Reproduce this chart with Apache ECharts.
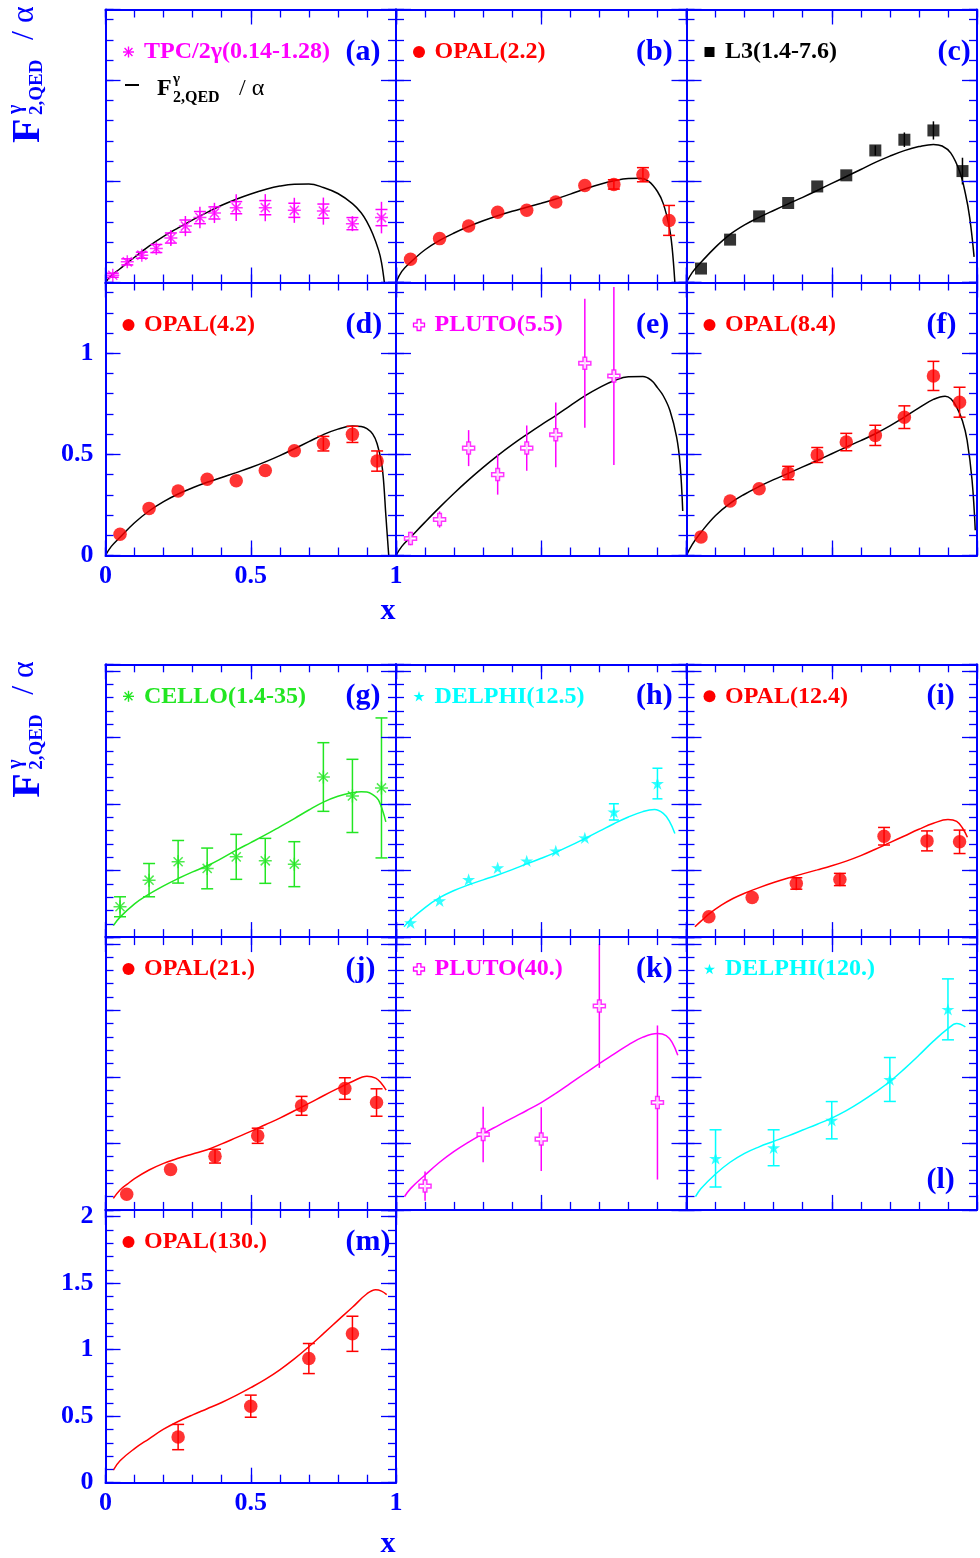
<!DOCTYPE html>
<html><head><meta charset="utf-8">
<script src="https://cdn.jsdelivr.net/npm/echarts@6/dist/echarts.min.js"></script>
<style>html,body{margin:0;padding:0;background:#fff}#c{width:980px;height:1558px}</style>
</head><body><div id="c"></div><script>
// ---------------- DATA ----------------
// (a) TPC/2gamma
const tpcX = [0.025, 0.075, 0.125, 0.175, 0.225, 0.275, 0.325, 0.375, 0.45, 0.55, 0.65, 0.75, 0.85, 0.95];
const tpcY = [0.036, 0.102, 0.135, 0.168, 0.22, 0.279, 0.321, 0.344, 0.37, 0.37, 0.357, 0.353, 0.291, 0.321];
const tpcErr = [0.01, 0.015, 0.015, 0.02, 0.04, 0.05, 0.053, 0.05, 0.066, 0.067, 0.062, 0.067, 0.037, 0.078];
const tpcStat = [0.01, 0.015, 0.015, 0.02, 0.025, 0.03, 0.03, 0.03, 0.03, 0.035, 0.035, 0.035, 0.03, 0.04];
const curveAX = [0, 0.02, 0.05, 0.075, 0.1, 0.15, 0.2, 0.25, 0.3, 0.35, 0.4, 0.45, 0.5, 0.55, 0.6, 0.65, 0.7, 0.75, 0.8, 0.85, 0.88, 0.9, 0.92, 0.94, 0.95, 0.96];
const curveAY = [0, 0.035, 0.068, 0.097, 0.125, 0.18, 0.228, 0.27, 0.31, 0.347, 0.382, 0.412, 0.438, 0.46, 0.477, 0.486, 0.487, 0.47, 0.44, 0.39, 0.345, 0.3, 0.24, 0.16, 0.1, 0];
// (b) OPAL 2.2
const opal22X = [0.05, 0.15, 0.25, 0.35, 0.45, 0.55, 0.65, 0.75, 0.85, 0.94];
const opal22Y = [0.115, 0.217, 0.279, 0.347, 0.357, 0.398, 0.48, 0.485, 0.533, 0.307];
const opal22Err = [0, 0, 0, 0, 0, 0, 0, 0.023, 0.035, 0.074];
const curveBX = [0, 0.02, 0.05, 0.1, 0.15, 0.2, 0.25, 0.3, 0.35, 0.4, 0.45, 0.5, 0.55, 0.6, 0.65, 0.7, 0.75, 0.8, 0.84, 0.87, 0.9, 0.92, 0.94, 0.95, 0.96];
const curveBY = [0, 0.055, 0.1, 0.162, 0.208, 0.245, 0.277, 0.305, 0.33, 0.352, 0.372, 0.392, 0.413, 0.437, 0.462, 0.485, 0.503, 0.514, 0.515, 0.5, 0.45, 0.39, 0.28, 0.18, 0];
// (c) L3
const l3X = [0.05, 0.15, 0.25, 0.35, 0.45, 0.55, 0.65, 0.75, 0.85, 0.95];
const l3Y = [0.069, 0.212, 0.327, 0.393, 0.475, 0.53, 0.653, 0.706, 0.752, 0.551];
const l3Err = [0, 0, 0, 0, 0, 0, 0.025, 0.036, 0.045, 0.066];
const curveCX = [0, 0.02, 0.05, 0.1, 0.15, 0.2, 0.25, 0.3, 0.35, 0.4, 0.45, 0.5, 0.55, 0.6, 0.65, 0.7, 0.75, 0.8, 0.85, 0.88, 0.91, 0.94, 0.96, 0.975, 0.99];
const curveCY = [0, 0.05, 0.1, 0.175, 0.238, 0.285, 0.322, 0.356, 0.389, 0.421, 0.455, 0.49, 0.524, 0.559, 0.594, 0.625, 0.652, 0.672, 0.683, 0.675, 0.64, 0.55, 0.44, 0.32, 0.127];
// (d) OPAL 4.2
const opal42X = [0.05, 0.15, 0.25, 0.35, 0.45, 0.55, 0.65, 0.75, 0.85, 0.935];
const opal42Y = [0.105, 0.233, 0.319, 0.377, 0.37, 0.42, 0.518, 0.553, 0.599, 0.467];
const opal42Err = [0, 0, 0, 0, 0, 0, 0, 0.036, 0.04, 0.05];
const curveDX = [0, 0.02, 0.05, 0.1, 0.15, 0.2, 0.25, 0.3, 0.35, 0.4, 0.45, 0.5, 0.55, 0.6, 0.65, 0.7, 0.75, 0.8, 0.85, 0.88, 0.9, 0.92, 0.935, 0.95, 0.957, 0.965, 0.975];
const curveDY = [0, 0.045, 0.09, 0.162, 0.22, 0.266, 0.304, 0.335, 0.362, 0.386, 0.41, 0.435, 0.463, 0.494, 0.528, 0.563, 0.598, 0.625, 0.64, 0.638, 0.627, 0.6, 0.553, 0.46, 0.372, 0.2, 0];
// (e) PLUTO 5.5
const pluto55X = [0.05, 0.15, 0.25, 0.35, 0.45, 0.55, 0.65, 0.75];
const pluto55Y = [0.084, 0.178, 0.531, 0.4, 0.531, 0.597, 0.951, 0.888];
const pluto55Err = [0.033, 0.04, 0.089, 0.099, 0.112, 0.16, 0.319, 0.44];
const curveEX = [0, 0.02, 0.05, 0.1, 0.15, 0.2, 0.25, 0.3, 0.35, 0.4, 0.45, 0.5, 0.55, 0.6, 0.65, 0.7, 0.75, 0.8, 0.85, 0.88, 0.9, 0.92, 0.943, 0.966, 0.978, 0.987];
const curveEY = [0, 0.045, 0.09, 0.165, 0.238, 0.308, 0.374, 0.436, 0.494, 0.548, 0.598, 0.646, 0.692, 0.741, 0.789, 0.83, 0.864, 0.884, 0.885, 0.865, 0.83, 0.79, 0.717, 0.585, 0.45, 0.22];
// (f) OPAL 8.4
const opal84X = [0.05, 0.15, 0.25, 0.35, 0.45, 0.55, 0.65, 0.75, 0.85, 0.94];
const opal84Y = [0.092, 0.27, 0.33, 0.408, 0.497, 0.561, 0.594, 0.684, 0.888, 0.758];
const opal84Err = [0, 0, 0, 0.033, 0.037, 0.043, 0.05, 0.056, 0.072, 0.074];
const curveFX = [0, 0.02, 0.05, 0.1, 0.15, 0.2, 0.25, 0.3, 0.35, 0.4, 0.45, 0.5, 0.55, 0.6, 0.65, 0.7, 0.75, 0.8, 0.85, 0.89, 0.91, 0.93, 0.95, 0.966, 0.983, 0.994];
const curveFY = [0, 0.055, 0.115, 0.198, 0.258, 0.303, 0.341, 0.375, 0.406, 0.438, 0.47, 0.503, 0.536, 0.568, 0.602, 0.641, 0.684, 0.73, 0.772, 0.788, 0.775, 0.734, 0.665, 0.569, 0.372, 0.125];
// (g) CELLO
const celloX = [0.05, 0.15, 0.25, 0.35, 0.45, 0.55, 0.65, 0.75, 0.85, 0.95];
const celloY = [0.228, 0.428, 0.566, 0.516, 0.603, 0.573, 0.548, 1.203, 1.061, 1.121];
const celloErr = [0.075, 0.125, 0.16, 0.153, 0.169, 0.169, 0.169, 0.258, 0.275, 0.526];
const curveGX = [0.027, 0.05, 0.1, 0.14, 0.2, 0.25, 0.3, 0.35, 0.4, 0.45, 0.5, 0.55, 0.6, 0.65, 0.7, 0.75, 0.8, 0.85, 0.88, 0.9, 0.92, 0.94, 0.965];
const curveGY = [0.086, 0.15, 0.25, 0.31, 0.385, 0.44, 0.49, 0.536, 0.592, 0.653, 0.71, 0.768, 0.829, 0.891, 0.955, 1.014, 1.058, 1.085, 1.093, 1.091, 1.07, 1.029, 0.866];
// (h) DELPHI 12.5
const delphi125X = [0.05, 0.15, 0.25, 0.35, 0.45, 0.55, 0.65, 0.75, 0.9];
const delphi125Y = [0.108, 0.273, 0.433, 0.521, 0.573, 0.648, 0.746, 0.941, 1.154];
const delphi125Err = [0, 0, 0, 0, 0, 0, 0, 0.061, 0.115];
const curveHX = [0.0275, 0.05, 0.1, 0.15, 0.2, 0.25, 0.3, 0.35, 0.4, 0.45, 0.5, 0.55, 0.6, 0.65, 0.7, 0.75, 0.8, 0.85, 0.89, 0.92, 0.94, 0.96];
const curveHY = [0.078, 0.13, 0.222, 0.296, 0.35, 0.393, 0.43, 0.467, 0.507, 0.55, 0.592, 0.637, 0.687, 0.741, 0.796, 0.852, 0.903, 0.943, 0.958, 0.93, 0.875, 0.778];
// (i) OPAL 12.4
const opal124X = [0.077, 0.226, 0.378, 0.528, 0.68, 0.828, 0.94];
const opal124Y = [0.153, 0.298, 0.403, 0.433, 0.758, 0.723, 0.716];
const opal124Err = [0, 0, 0.043, 0.046, 0.066, 0.075, 0.088];
const curveIX = [0.029, 0.05, 0.08, 0.12, 0.16, 0.2, 0.25, 0.3, 0.35, 0.4, 0.45, 0.5, 0.55, 0.6, 0.65, 0.7, 0.75, 0.8, 0.85, 0.9, 0.93, 0.95, 0.967];
const curveIY = [0.078, 0.12, 0.178, 0.24, 0.29, 0.33, 0.372, 0.41, 0.444, 0.475, 0.505, 0.536, 0.571, 0.612, 0.66, 0.71, 0.76, 0.81, 0.855, 0.884, 0.87, 0.82, 0.75];
// (j) OPAL 21.
const opal21X = [0.073, 0.224, 0.377, 0.524, 0.675, 0.824, 0.933];
const opal21Y = [0.117, 0.304, 0.404, 0.557, 0.782, 0.912, 0.807];
const opal21Err = [0, 0, 0.052, 0.057, 0.071, 0.081, 0.103];
const curveJX = [0.027, 0.05, 0.075, 0.1, 0.15, 0.2, 0.25, 0.3, 0.35, 0.4, 0.45, 0.5, 0.55, 0.6, 0.65, 0.7, 0.75, 0.8, 0.85, 0.9, 0.93, 0.95, 0.966];
const curveJY = [0.087, 0.15, 0.194, 0.235, 0.3, 0.35, 0.388, 0.42, 0.452, 0.496, 0.543, 0.59, 0.64, 0.69, 0.745, 0.8, 0.858, 0.913, 0.965, 1.005, 0.99, 0.95, 0.9];
// (k) PLUTO 40.
const pluto40X = [0.1, 0.3, 0.5, 0.7, 0.9];
const pluto40Y = [0.179, 0.567, 0.532, 1.532, 0.807];
const pluto40Err = [0.11, 0.208, 0.24, 0.465, 0.579];
const curveKX = [0.029, 0.05, 0.1, 0.15, 0.2, 0.25, 0.3, 0.35, 0.4, 0.45, 0.5, 0.55, 0.6, 0.65, 0.7, 0.75, 0.8, 0.85, 0.9, 0.93, 0.95, 0.97];
const curveKY = [0.099, 0.16, 0.262, 0.358, 0.44, 0.51, 0.573, 0.632, 0.69, 0.747, 0.806, 0.875, 0.95, 1.025, 1.1, 1.17, 1.24, 1.298, 1.325, 1.31, 1.26, 1.162];
// (l) DELPHI 120.
const delphi120X = [0.1, 0.3, 0.5, 0.7, 0.9];
const delphi120Y = [0.387, 0.467, 0.674, 0.98, 1.507];
const delphi120Err = [0.215, 0.135, 0.14, 0.165, 0.229];
const curveLX = [0.031, 0.05, 0.1, 0.15, 0.2, 0.25, 0.3, 0.35, 0.4, 0.45, 0.5, 0.55, 0.6, 0.65, 0.7, 0.75, 0.8, 0.85, 0.9, 0.93, 0.96];
const curveLY = [0.099, 0.16, 0.27, 0.358, 0.425, 0.474, 0.515, 0.556, 0.6, 0.644, 0.69, 0.746, 0.812, 0.885, 0.965, 1.06, 1.162, 1.268, 1.362, 1.4, 1.375];
// (m) OPAL 130.
const opal130X = [0.25, 0.5, 0.7, 0.85];
const opal130Y = [0.343, 0.575, 0.933, 1.119];
const opal130Err = [0.095, 0.083, 0.113, 0.132];
const curveMX = [0.027, 0.05, 0.1, 0.15, 0.2, 0.25, 0.3, 0.35, 0.4, 0.45, 0.5, 0.55, 0.6, 0.65, 0.7, 0.75, 0.8, 0.85, 0.9, 0.93, 0.95, 0.968];
const curveMY = [0.095, 0.165, 0.256, 0.33, 0.402, 0.46, 0.51, 0.556, 0.603, 0.656, 0.714, 0.776, 0.848, 0.93, 1.022, 1.12, 1.22, 1.318, 1.42, 1.45, 1.44, 1.413];

// ---------------- STYLE / LAYOUT ----------------
const BLUE = '#0000ff', RED = '#ff0000', MAG = '#ff00ff', GRN = '#22e622', CYN = '#00ffff', BLK = '#000000';
const FONT = '"Liberation Serif","Times New Roman",serif';
const COL_LEFT = [105.5, 396, 686.5], PW = 290.5;
const BLOCKS = [
  {top: 9.5, h: 273, ymax: 1.35, legDy: 42.5},
  {top: 664.3, h: 272.8, ymax: 2.05, legDy: 32}
];

const panels = [
  {id:'(a)', block:0, row:0, col:0, px:tpcX, py:tpcY, pe:tpcErr, ps:tpcStat, cx:curveAX, cy:curveAY, color:MAG, ccol:BLK, sym:'asterisk', cap:6, label:'TPC/2γ(0.14-1.28)'},
  {id:'(b)', block:0, row:0, col:1, px:opal22X, py:opal22Y, pe:opal22Err, cx:curveBX, cy:curveBY, color:RED, ccol:BLK, sym:'dot', cap:6, label:'OPAL(2.2)'},
  {id:'(c)', block:0, row:0, col:2, px:l3X, py:l3Y, pe:l3Err, cx:curveCX, cy:curveCY, color:BLK, ccol:BLK, sym:'square', cap:0, label:'L3(1.4-7.6)', idDx:251},
  {id:'(d)', block:0, row:1, col:0, px:opal42X, py:opal42Y, pe:opal42Err, cx:curveDX, cy:curveDY, color:RED, ccol:BLK, sym:'dot', cap:6, label:'OPAL(4.2)', xl:true, yl:true},
  {id:'(e)', block:0, row:1, col:1, px:pluto55X, py:pluto55Y, pe:pluto55Err, cx:curveEX, cy:curveEY, color:MAG, ccol:BLK, sym:'ocross', cap:0, label:'PLUTO(5.5)'},
  {id:'(f)', block:0, row:1, col:2, px:opal84X, py:opal84Y, pe:opal84Err, cx:curveFX, cy:curveFY, color:RED, ccol:BLK, sym:'dot', cap:6, label:'OPAL(8.4)'},
  {id:'(g)', block:1, row:0, col:0, px:celloX, py:celloY, pe:celloErr, cx:curveGX, cy:curveGY, color:GRN, ccol:GRN, sym:'asterisk', cap:6, label:'CELLO(1.4-35)'},
  {id:'(h)', block:1, row:0, col:1, px:delphi125X, py:delphi125Y, pe:delphi125Err, cx:curveHX, cy:curveHY, color:CYN, ccol:CYN, sym:'star', cap:5, label:'DELPHI(12.5)'},
  {id:'(i)', block:1, row:0, col:2, px:opal124X, py:opal124Y, pe:opal124Err, cx:curveIX, cy:curveIY, color:RED, ccol:RED, sym:'dot', cap:6, label:'OPAL(12.4)'},
  {id:'(j)', block:1, row:1, col:0, px:opal21X, py:opal21Y, pe:opal21Err, cx:curveJX, cy:curveJY, color:RED, ccol:RED, sym:'dot', cap:6, label:'OPAL(21.)'},
  {id:'(k)', block:1, row:1, col:1, px:pluto40X, py:pluto40Y, pe:pluto40Err, cx:curveKX, cy:curveKY, color:MAG, ccol:MAG, sym:'ocross', cap:0, label:'PLUTO(40.)'},
  {id:'(l)', block:1, row:1, col:2, px:delphi120X, py:delphi120Y, pe:delphi120Err, cx:curveLX, cy:curveLY, color:CYN, ccol:CYN, sym:'star', cap:6, label:'DELPHI(120.)', idDy:243},
  {id:'(m)', block:1, row:2, col:0, px:opal130X, py:opal130Y, pe:opal130Err, cx:curveMX, cy:curveMY, color:RED, ccol:RED, sym:'dot', cap:6, label:'OPAL(130.)', xl:true, yl:true}
];

function starPath() {
  let s = 'path://';
  for (let k = 0; k < 10; k++) {
    const a = -Math.PI / 2 + k * Math.PI / 5, r = k % 2 ? 19 : 50;
    s += (k ? 'L' : 'M') + (50 + r * Math.cos(a)).toFixed(2) + ',' + (50 + r * Math.sin(a)).toFixed(2);
  }
  return s + 'Z';
}
const SYM = {
  dot: {symbol: 'circle', size: 13.5, style: c => ({color: c})},
  square: {symbol: 'rect', size: 12, style: c => ({color: c})},
  star: {symbol: starPath(), size: 13, keep: true, style: c => ({color: c})},
  ocross: {symbol: 'path://M35,0H65V35H100V65H65V100H35V65H0V35H35Z', size: 12, style: c => ({color: '#ffffff', borderColor: c, borderWidth: 1.5})},
  asterisk: {symbol: 'path://M50,0L50,100M0,50L100,50M15,15L85,85M85,15L15,85', size: 13, style: c => ({color: 'rgba(0,0,0,0)', borderColor: c, borderWidth: 1.5})}
};

function ax(dim, gi, pos, max, interval, tickLen, line, labels) {
  return {
    type: 'value', gridIndex: gi, position: pos, min: 0, max: max, interval: interval,
    axisLine: {show: line, onZero: false, lineStyle: {color: BLUE, width: 2}},
    axisTick: {show: true, inside: true, length: tickLen, lineStyle: {color: BLUE, width: 1.3}},
    axisLabel: {show: labels, color: BLUE, fontFamily: FONT, fontWeight: 'bold', fontSize: 26,
      margin: dim === 'x' ? 8 : 12, showMaxLabel: dim === 'x', showMinLabel: true},
    splitLine: {show: false}, minorTick: {show: false}, silent: true, z: 5
  };
}

const grids = [], xAxes = [], yAxes = [], series = [], graphics = [];

function txt(text, x, y, size, color, opts) {
  opts = opts || {};
  const weight = opts.normal ? 'normal' : 'bold';
  return {type: 'text', x: x, y: y, rotation: opts.rot || 0, silent: true, z: 100,
    style: {text: text, fill: color, font: weight + ' ' + size + 'px ' + FONT,
      textAlign: opts.align || 'left', align: opts.align || 'left',
      textVerticalAlign: 'middle', verticalAlign: 'middle'}};
}

function legendMarker(kind, cx, cy, color) {
  if (kind === 'dot') return {type: 'circle', shape: {cx: cx, cy: cy, r: 6}, style: {fill: color}, silent: true, z: 100};
  if (kind === 'square') return {type: 'rect', shape: {x: cx - 5, y: cy - 5, width: 10, height: 10}, style: {fill: color}, silent: true, z: 100};
  if (kind === 'star') {
    const pts = [];
    for (let k = 0; k < 10; k++) { const a = -Math.PI / 2 + k * Math.PI / 5, r = k % 2 ? 2.2 : 5.8; pts.push([cx + r * Math.cos(a), cy + 0.5 + r * Math.sin(a)]); }
    return {type: 'polygon', shape: {points: pts}, style: {fill: color}, silent: true, z: 100};
  }
  if (kind === 'ocross') {
    const s = 5.5, w = 1.9;
    const p = [[-w,-s],[w,-s],[w,-w],[s,-w],[s,w],[w,w],[w,s],[-w,s],[-w,w],[-s,w],[-s,-w],[-w,-w]].map(q => [cx + q[0], cy + q[1]]);
    return {type: 'polygon', shape: {points: p}, style: {fill: '#fff', stroke: color, lineWidth: 1.3}, silent: true, z: 100};
  }
  const r = 5.5, d = r * 0.72;
  const st = {stroke: color, lineWidth: 1.4};
  return {type: 'group', silent: true, z: 100, children: [
    {type: 'line', shape: {x1: cx, y1: cy - r, x2: cx, y2: cy + r}, style: st},
    {type: 'line', shape: {x1: cx - r, y1: cy, x2: cx + r, y2: cy}, style: st},
    {type: 'line', shape: {x1: cx - d, y1: cy - d, x2: cx + d, y2: cy + d}, style: st},
    {type: 'line', shape: {x1: cx + d, y1: cy - d, x2: cx - d, y2: cy + d}, style: st}
  ]};
}

function errRender(color, capHalf) {
  return function (params, api) {
    const x = api.value(0), y = api.value(1), e = api.value(2), es = api.value(3);
    if (!(e > 0)) return null;
    const p1 = api.coord([x, y + e]), p2 = api.coord([x, y - e]);
    const st = {stroke: color, lineWidth: 1.5};
    const ch = [{type: 'line', shape: {x1: p1[0], y1: p1[1], x2: p2[0], y2: p2[1]}, style: st}];
    if (capHalf > 0) {
      const c1 = api.coord([x, y + es]), c2 = api.coord([x, y - es]);
      ch.push({type: 'line', shape: {x1: c1[0] - capHalf, y1: c1[1], x2: c1[0] + capHalf, y2: c1[1]}, style: st});
      ch.push({type: 'line', shape: {x1: c2[0] - capHalf, y1: c2[1], x2: c2[0] + capHalf, y2: c2[1]}, style: st});
    }
    return {type: 'group', children: ch};
  };
}

panels.forEach((p, gi) => {
  const B = BLOCKS[p.block];
  const left = COL_LEFT[p.col], top = B.top + p.row * B.h;
  grids.push({left: left, top: top, width: PW, height: B.h, containLabel: false, outerBoundsMode: 'none', show: false});
  const xi = xAxes.length, yi = yAxes.length;
  xAxes.push(ax('x', gi, 'bottom', 1, 0.1, 8, true, false));
  xAxes.push(ax('x', gi, 'bottom', 1, 0.5, 15, false, !!p.xl));
  xAxes.push(ax('x', gi, 'top', 1, 0.1, 8, true, false));
  xAxes.push(ax('x', gi, 'top', 1, 0.5, 15, false, false));
  yAxes.push(ax('y', gi, 'left', B.ymax, 0.1, 8, true, false));
  yAxes.push(ax('y', gi, 'left', B.ymax, 0.5, 15, false, !!p.yl));
  yAxes.push(ax('y', gi, 'right', B.ymax, 0.1, 8, true, false));
  yAxes.push(ax('y', gi, 'right', B.ymax, 0.5, 15, false, false));

  series.push({type: 'line', xAxisIndex: xi, yAxisIndex: yi, data: p.cx.map((v, i) => [v, p.cy[i]]),
    showSymbol: false, symbol: 'none', smooth: 0.4, silent: true, animation: false,
    lineStyle: {color: p.ccol, width: 1.5}, z: 2});
  series.push({type: 'custom', xAxisIndex: xi, yAxisIndex: yi, renderItem: errRender(p.color, p.cap),
    data: p.px.map((v, i) => [v, p.py[i], p.pe[i], p.ps ? p.ps[i] : p.pe[i]]),
    encode: {x: 0, y: 1}, silent: true, animation: false, z: 3});
  const S = SYM[p.sym];
  series.push({type: 'scatter', xAxisIndex: xi, yAxisIndex: yi, data: p.px.map((v, i) => [v, p.py[i]]),
    symbol: S.symbol, symbolSize: S.size, symbolKeepAspect: !!S.keep, itemStyle: S.style(p.color),
    silent: true, animation: false, z: 4});

  const ly = top + B.legDy;
  graphics.push(legendMarker(p.sym, left + 23, ly, p.color));
  graphics.push(txt(p.label, left + 38.5, ly, 24, p.color));
  graphics.push(txt(p.id, left + (p.idDx || 240), top + (p.idDy || (p.block ? 32 : 42.5)), 30, BLUE));
});

// second legend line in (a): F^gamma_{2,QED} / alpha
graphics.push({type: 'line', shape: {x1: 125, y1: 85, x2: 139, y2: 85}, style: {stroke: BLK, lineWidth: 2}, silent: true, z: 100});
graphics.push(txt('F', 157, 89, 24, BLK));
graphics.push(txt('γ', 173, 79, 15, BLK));
graphics.push(txt('2,QED', 173, 98, 16, BLK));
graphics.push(txt('/ α', 239, 89, 24, BLK, {normal: true}));

// y-axis titles (rotated)
function yTitle(dy) {
  const R = Math.PI / 2;
  graphics.push(txt('F', 29, 143 + dy, 40, BLUE, {rot: R}));
  graphics.push(txt('γ', 16, 114 + dy, 20, BLUE, {rot: R}));
  graphics.push(txt('2,QED', 37, 115 + dy, 19, BLUE, {rot: R}));
  graphics.push(txt('/ α', 25, 40 + dy, 32, BLUE, {rot: R, normal: true}));
}
yTitle(0);
yTitle(654.8);
graphics.push(txt('x', 388, 611, 30, BLUE, {align: 'center'}));
graphics.push(txt('x', 388, 1544, 30, BLUE, {align: 'center'}));

const chart = echarts.init(document.getElementById('c'), null, {renderer: 'canvas'});
chart.setOption({
  backgroundColor: '#ffffff',
  animation: false,
  grid: grids, xAxis: xAxes, yAxis: yAxes, series: series,
  graphic: {elements: graphics}
});
</script></body></html>
